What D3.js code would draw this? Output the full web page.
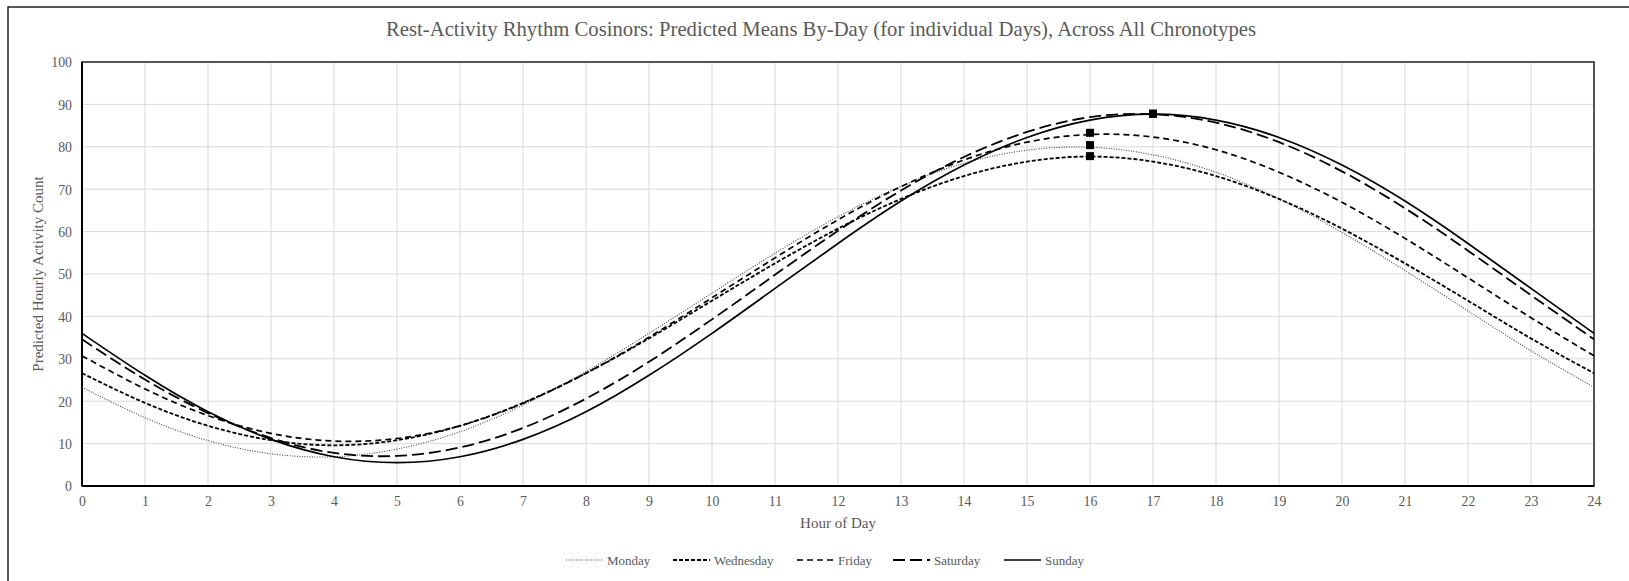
<html>
  <head>
    <meta charset="UTF-8" />
    <style>
      body { margin: 0; background: white; }
      text { font-family: "Liberation Serif", "Times New Roman", serif; }
    </style>
    <script src="https://d3js.org/d3.v7.min.js"></script>
  </head>

  <body>
    <svg id="svg"></svg>

    <script>
      // hours of the day (x axis)
      var hours = [0, 1, 2, 3, 4, 5, 6, 7, 8, 9, 10, 11, 12, 13, 14, 15, 16, 17, 18, 19, 20, 21, 22, 23, 24];
      var yTicks = [0, 10, 20, 30, 40, 50, 60, 70, 80, 90, 100];

      // predicted means, one per hour
      var monday = [23.3, 16.1, 10.7, 7.6, 6.9, 8.7, 12.8, 19.1, 27.0, 36.0, 45.5, 54.9, 63.5, 70.7, 76.1, 79.2, 79.9, 78.1, 74.0, 67.7, 59.8, 50.8, 41.3, 31.9, 23.3];
      var wednesday = [26.6, 19.6, 14.2, 10.8, 9.6, 10.8, 14.2, 19.6, 26.6, 34.8, 43.7, 52.5, 60.7, 67.7, 73.1, 76.5, 77.7, 76.5, 73.1, 67.7, 60.7, 52.5, 43.7, 34.8, 26.6];
      var friday = [30.7, 22.9, 16.6, 12.4, 10.6, 11.2, 14.2, 19.5, 26.6, 35.1, 44.4, 53.8, 62.8, 70.6, 76.9, 81.1, 82.9, 82.3, 79.3, 74.0, 66.9, 58.4, 49.1, 39.7, 30.7];
      var saturday = [34.6, 25.1, 17.2, 11.3, 7.8, 7.1, 9.1, 13.7, 20.6, 29.3, 39.3, 49.8, 60.2, 69.7, 77.6, 83.5, 87.0, 87.7, 85.7, 81.1, 74.2, 65.5, 55.5, 45.0, 34.6];
      var sunday = [36.0, 26.1, 17.5, 11.0, 6.9, 5.5, 6.9, 11.0, 17.5, 26.1, 36.0, 46.6, 57.2, 67.2, 75.7, 82.2, 86.3, 87.7, 86.3, 82.2, 75.7, 67.2, 57.2, 46.6, 36.0];

      var dayNames = ["Monday", "Wednesday", "Friday", "Saturday", "Sunday"];
      var dayValues = [monday, wednesday, friday, saturday, sunday];

      // acrophase markers
      var peakHours = [16, 16, 16, 17, 17];
      var peakValues = [80.4, 77.8, 83.3, 87.8, 87.8];

      var dashes = ["1,1.5", "4,2", "6,4", "12,5", null];
      var widths = [1.1, 1.8, 1.7, 1.8, 1.7];
      var strokes = ["#444", "#000", "#000", "#000", "#000"];

      var width = 1629,
        height = 581;
      var plotLeft = 82,
        plotTop = 62,
        plotRight = 1594,
        plotBottom = 486;
      var grey = "#595959";

      var svg = d3.select("#svg").attr("width", width).attr("height", height);

      // outer chart border (runs off the right and bottom)
      svg
        .append("rect")
        .attr("x", 8)
        .attr("y", 7)
        .attr("width", 1700)
        .attr("height", 700)
        .attr("fill", "white")
        .attr("stroke", "#111")
        .attr("stroke-width", 1.4);

      var x = d3.scaleLinear().domain([0, 24]).range([plotLeft, plotRight]);
      var y = d3.scaleLinear().domain([0, 100]).range([plotBottom, plotTop]);

      // gridlines
      svg
        .append("g")
        .selectAll("line")
        .data(hours)
        .enter()
        .append("line")
        .attr("x1", (d) => x(d))
        .attr("x2", (d) => x(d))
        .attr("y1", plotTop)
        .attr("y2", plotBottom)
        .attr("stroke", "#d9d9d9")
        .attr("stroke-width", 1);

      svg
        .append("g")
        .selectAll("line")
        .data(yTicks)
        .enter()
        .append("line")
        .attr("x1", plotLeft)
        .attr("x2", plotRight)
        .attr("y1", (d) => y(d))
        .attr("y2", (d) => y(d))
        .attr("stroke", "#d9d9d9")
        .attr("stroke-width", 1);

      // axes
      var xAxis = svg
        .append("g")
        .attr("transform", "translate(0," + plotBottom + ")")
        .call(d3.axisBottom(x).tickValues(hours).tickSize(0).tickPadding(10).tickFormat(d3.format("d")));
      var yAxis = svg
        .append("g")
        .attr("transform", "translate(" + plotLeft + ",0)")
        .call(d3.axisLeft(y).tickValues(yTicks).tickSize(0).tickPadding(10).tickFormat(d3.format("d")));

      [xAxis, yAxis].forEach((a) => {
        a.select(".domain").remove();
        a.selectAll("text")
          .style("font-family", "Liberation Serif")
          .style("font-size", "13.8px")
          .attr("fill", grey);
      });
      yAxis.selectAll("text").attr("dy", "0.36em");

      // plot border
      svg
        .append("rect")
        .attr("x", plotLeft)
        .attr("y", plotTop)
        .attr("width", plotRight - plotLeft)
        .attr("height", plotBottom - plotTop)
        .attr("fill", "none")
        .attr("stroke", "#222")
        .attr("stroke-width", 1.5);
      svg.append("line").attr("x1", plotLeft).attr("x2", plotLeft).attr("y1", plotTop).attr("y2", plotBottom)
        .attr("stroke", "#000").attr("stroke-width", 2);
      svg.append("line").attr("x1", plotLeft).attr("x2", plotRight).attr("y1", plotBottom).attr("y2", plotBottom)
        .attr("stroke", "#000").attr("stroke-width", 2);

      // series lines
      var line = d3
        .line()
        .x((d, i) => x(hours[i]))
        .y((d) => y(d))
        .curve(d3.curveNatural);

      svg
        .append("g")
        .selectAll("path")
        .data(dayValues)
        .enter()
        .append("path")
        .attr("d", (d) => line(d))
        .attr("fill", "none")
        .attr("stroke", (d, i) => strokes[i])
        .attr("stroke-width", (d, i) => widths[i])
        .attr("stroke-dasharray", (d, i) => dashes[i]);

      // peak markers
      svg
        .append("g")
        .selectAll("rect")
        .data(peakHours)
        .enter()
        .append("rect")
        .attr("x", (d) => x(d) - 4)
        .attr("y", (d, i) => y(peakValues[i]) - 4)
        .attr("width", 8)
        .attr("height", 8)
        .attr("fill", "black");

      // titles
      svg
        .append("text")
        .attr("x", 821)
        .attr("y", 36)
        .attr("text-anchor", "middle")
        .attr("fill", grey)
        .style("font-size", "20.7px")
        .text("Rest-Activity Rhythm Cosinors: Predicted Means By-Day (for individual Days), Across All Chronotypes");

      svg
        .append("text")
        .attr("x", (plotLeft + plotRight) / 2)
        .attr("y", 528)
        .attr("text-anchor", "middle")
        .attr("fill", grey)
        .style("font-size", "15px")
        .text("Hour of Day");

      svg
        .append("text")
        .attr("transform", "translate(43," + (plotTop + plotBottom) / 2 + ") rotate(-90)")
        .attr("text-anchor", "middle")
        .attr("fill", grey)
        .style("font-size", "15px")
        .text("Predicted Hourly Activity Count");

      // legend
      var legendX = [566, 673, 797, 893, 1004];
      var legend = svg
        .append("g")
        .selectAll("g")
        .data(dayNames)
        .enter()
        .append("g")
        .attr("transform", (d, i) => "translate(" + legendX[i] + ",560)");

      legend
        .append("line")
        .attr("x1", 0)
        .attr("x2", 37)
        .attr("y1", 0)
        .attr("y2", 0)
        .attr("stroke", (d, i) => strokes[i])
        .attr("stroke-width", (d, i) => widths[i])
        .attr("stroke-dasharray", (d, i) => dashes[i]);

      legend
        .append("text")
        .attr("x", 41)
        .attr("y", 4.5)
        .attr("fill", grey)
        .style("font-size", "13px")
        .text((d) => d);
    </script>
  </body>
</html>
